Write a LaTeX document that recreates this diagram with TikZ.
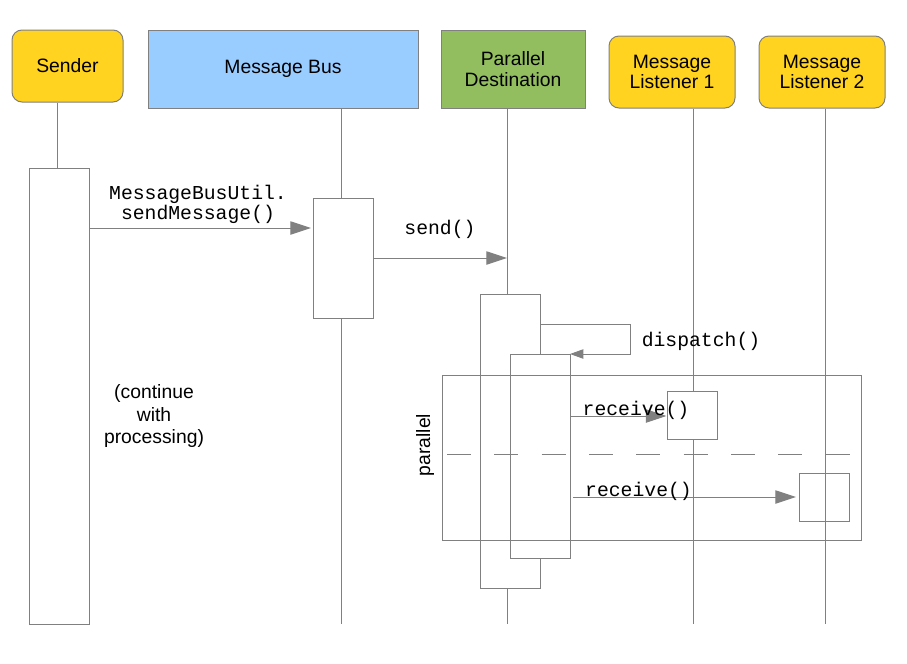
\documentclass[tikz,border=0pt]{standalone}
\usepackage{fontspec}
\setmainfont{Liberation Sans}
\newfontfamily\monof{Liberation Mono}
\usetikzlibrary{arrows.meta}
\definecolor{lgray}{HTML}{808080}
\definecolor{gold}{HTML}{FFD320}
\definecolor{lblue}{HTML}{99CCFF}
\definecolor{lgreen}{HTML}{92BE5F}
\tikzset{
  hdr/.style={draw=lgray, line width=0.75pt, inner sep=0pt, align=center, font=\fontsize{14.5pt}{17pt}\selectfont},
  rhdr/.style={hdr, fill=gold, rounded corners=7.5pt},
  life/.style={draw=lgray, line width=0.75pt},
  actbox/.style={draw=lgray, fill=white, line width=0.75pt},
  msg/.style={draw=lgray, line width=0.75pt, -{Triangle[length=15.5pt,width=10pt]}},
  smallmsg/.style={draw=lgray, line width=0.75pt, -{Triangle[length=10pt,width=7pt]}},
  mlabel/.style={font=\monof\fontsize{14.8pt}{17pt}\selectfont, inner sep=0pt, align=center},
  slabel/.style={font=\fontsize{14.5pt}{17pt}\selectfont, inner sep=0pt, align=center},
}
\begin{document}
\begin{tikzpicture}[x=0.75pt,y=-0.75pt]
\useasboundingbox (0,0) rectangle (907,664);
% headers
\node[rhdr, minimum width=111*0.75pt, minimum height=72*0.75pt] (sender) at (67.5,66) {Sender};
\node[hdr, fill=lblue, minimum width=270*0.75pt, minimum height=78*0.75pt] (bus) at (283,69) {Message Bus};
\node[hdr, fill=lgreen, minimum width=144*0.75pt, minimum height=78*0.75pt] (pd) at (513,69) {Parallel\\[-1.5pt]Destination};
\node[rhdr, minimum width=126*0.75pt, minimum height=72*0.75pt] (l1) at (672,72) {Message\\[-1.5pt]Listener 1};
\node[rhdr, minimum width=126*0.75pt, minimum height=72*0.75pt] (l2) at (822,72) {Message\\[-1.5pt]Listener 2};
% lifeline ends
\coordinate (es) at (57,624);
\coordinate (eb) at (341,624);
\coordinate (ep) at (507,624);
\coordinate (e1) at (693,624);
\coordinate (e2) at (825,624);
\draw[life] (sender.south -| es) -- (es);
\draw[life] (bus.south -| eb) -- (eb);
\draw[life] (pd.south -| ep) -- (ep);
\draw[life] (l1.south -| e1) -- (e1);
\draw[life] (l2.south -| e2) -- (e2);
% activation boxes
\node[actbox, minimum width=60*0.75pt, minimum height=456*0.75pt, inner sep=0pt] (as) at (59,396) {};
\node[actbox, minimum width=60*0.75pt, minimum height=120*0.75pt, inner sep=0pt] (ab) at (343,258) {};
\node[actbox, minimum width=60*0.75pt, minimum height=294*0.75pt, inner sep=0pt] (ap1) at (510,441) {};
\node[actbox, minimum width=60*0.75pt, minimum height=204*0.75pt, inner sep=0pt] (ap2) at (540,456) {};
\node[actbox, minimum width=50*0.75pt, minimum height=48*0.75pt, inner sep=0pt] (a1) at (692,415) {};
\node[draw=lgray, line width=0.75pt, minimum width=50*0.75pt, minimum height=48*0.75pt, inner sep=0pt] (a2) at (824,497) {};
% frame
\node[draw=lgray, line width=0.75pt, minimum width=419*0.75pt, minimum height=165*0.75pt, inner sep=0pt] (frame) at (651.5,457.5) {};
\coordinate (dl) at (447,454);
\coordinate (dr) at (857,454);
\draw[lgray, line width=0.75pt, dash pattern=on 18pt off 17.5pt] (dl) -- (dr);
\node[slabel, rotate=90] (par) at (425,445) {parallel};
% messages
\coordinate (m1s) at (89,228);
\coordinate (m1e) at (311,228);
\draw[msg] (m1s) -- (m1e);
\node[mlabel] (m1l) at (198,204) {MessageBusUtil.\\[-2pt]sendMessage()};
\coordinate (m2s) at (373,258);
\coordinate (m2e) at (507,258);
\draw[msg] (m2s) -- (m2e);
\node[mlabel] (m2l) at (440,229) {send()};
\coordinate (d1) at (540,324);
\coordinate (d2) at (630,354);
\coordinate (d3) at (570,354);
\draw[smallmsg] (d1) -| (d2) -- (d3);
\node[mlabel] (dl2) at (701,341) {dispatch()};
\coordinate (r1s) at (570,416);
\draw[msg] (r1s) -- (a1.west |- r1s);
\node[mlabel] (r1l) at (636,410) {receive()};
\coordinate (r2s) at (573,497);
\coordinate (r2e) at (796,497);
\draw[msg] (r2s) -- (r2e);
\node[mlabel] (r2l) at (638.5,491) {receive()};
\node[slabel, font=\fontsize{14.5pt}{16.8pt}\selectfont] (cont) at (154,416) {(continue\\with\\processing)};
\end{tikzpicture}
\end{document}
